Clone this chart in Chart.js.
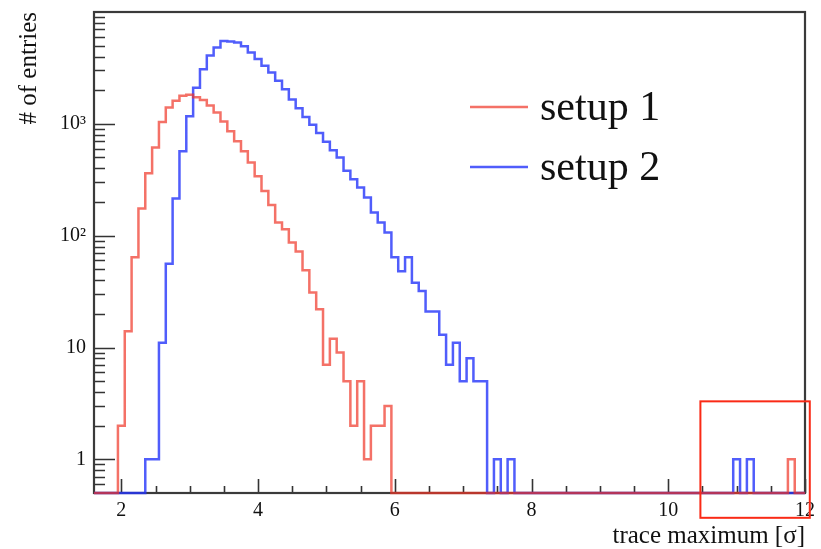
<!DOCTYPE html>
<html lang="en">
<head>
  <meta charset="UTF-8">
  <title>trace maximum</title>
  <script src="https://cdn.jsdelivr.net/npm/chart.js"></script>
  <style>
    * { box-sizing: border-box; margin: 0; padding: 0; }
    body { background: #fff; }
    .wrap { width: 821px; height: 549px; position: relative; }
  </style>
</head>
<body>
  <div class="wrap"><canvas id="histo"></canvas></div>

  <script>
    // binning: bin centres 1.6, 1.7, ... 12.0
    const binStart = 1.55;
    const binWidth = 0.1;

    // entries per bin
    const setup1Counts = [
      0, 0, 0, 0, 2, 14, 64, 175, 362, 614,
      1036, 1400, 1607, 1780, 1817, 1730, 1630, 1460, 1260, 1050,
      860, 700, 570, 450, 340, 251, 188, 131, 114, 87,
      72, 49, 31, 22, 7, 12, 9, 5, 2, 5,
      1, 2, 2, 3, 0, 0, 0, 0, 0, 0,
      0, 0, 0, 0, 0, 0, 0, 0, 0, 0,
      0, 0, 0, 0, 0, 0, 0, 0, 0, 0,
      0, 0, 0, 0, 0, 0, 0, 0, 0, 0,
      0, 0, 0, 0, 0, 0, 0, 0, 0, 0,
      0, 0, 0, 0, 0, 0, 0, 0, 0, 0,
      0, 0, 1, 0, 0
    ];
    const setup2Counts = [
      0, 0, 0, 0, 0, 0, 0, 0, 1, 1,
      11, 56, 215, 570, 1170, 2100, 3080, 4080, 4820, 5500,
      5450, 5350, 4950, 4350, 3800, 3300, 2880, 2430, 2040, 1650,
      1380, 1150, 980, 830, 690, 580, 500, 380, 320, 269,
      219, 161, 131, 107, 64, 48, 64, 38, 32, 21,
      21, 13, 7, 11, 5, 8, 5, 5, 0, 1,
      0, 1, 0, 0, 0, 0, 0, 0, 0, 0,
      0, 0, 0, 0, 0, 0, 0, 0, 0, 0,
      0, 0, 0, 0, 0, 0, 0, 0, 0, 0,
      0, 0, 0, 0, 1, 0, 1, 0, 0, 0,
      0, 0, 0, 0, 0
    ];

    const seriesLabels = ['setup 1', 'setup 2'];
    const seriesColors = ['rgba(240,52,38,0.7)', 'rgba(36,52,250,0.8)'];

    // axes
    const xRange = [1.6, 12];
    const yRange = [0.5, 10000];
    const xLabelValues = [2, 4, 6, 8, 10, 12];
    const xMinorStep = 0.5;
    const yLabelValues = [1, 10, 100, 1000];
    const yLabelText = ['1', '10', '10²', '10³'];
    const xTitle = 'trace maximum [σ]';
    const yTitle = '# of entries';

    // highlight box round the far tail (x from..to, y from..to)
    const highlightX = [10.47, 12.07];
    const highlightY = [0.3, 3.3];

    const serif = '"Liberation Serif", "DejaVu Serif", serif';

    // histogram -> step points on the low bin edges (empty bins sit on the axis minimum)
    function toSteps(counts) {
      const pts = counts.map((c, i) => ({ x: binStart + i * binWidth, y: c > 0 ? c : yRange[0] }));
      const last = counts.length - 1;
      pts.push({ x: binStart + (last + 1) * binWidth, y: pts[last].y });
      return pts;
    }

    // ROOT style frame with inward ticks
    const frameTicks = {
      id: 'frameTicks',
      beforeDatasetsDraw(chart) {
        const { ctx, chartArea: a, scales: { x, y } } = chart;
        ctx.save();
        ctx.strokeStyle = '#333';
        ctx.lineWidth = 1.6;
        ctx.beginPath();
        for (let e = -1; e <= 4; e++) {
          for (let m = 1; m <= 9; m++) {
            const v = m * Math.pow(10, e);
            if (v <= yRange[0] || v >= yRange[1]) continue;
            const py = Math.round(y.getPixelForValue(v)) + 0.5;
            ctx.moveTo(a.left, py);
            ctx.lineTo(a.left + (m === 1 ? 21 : 11), py);
          }
        }
        for (let v = xLabelValues[0]; v <= xRange[1] + 1e-6; v += xMinorStep) {
          const px = Math.round(x.getPixelForValue(v)) + 0.5;
          const major = Math.abs(v % 2) < 1e-6;
          ctx.moveTo(px, a.bottom);
          ctx.lineTo(px, a.bottom - (major ? 14 : 7));
        }
        ctx.stroke();

        ctx.strokeStyle = '#3a3a3a';
        ctx.lineWidth = 2.2;
        ctx.strokeRect(a.left, a.top, a.right - a.left, a.bottom - a.top);
        ctx.restore();
      }
    };

    // legend in the upper right of the frame, plus the red highlight box
    const histLegend = {
      id: 'histLegend',
      afterDraw(chart) {
        const { ctx, scales: { x, y } } = chart;
        ctx.save();
        ctx.font = '42px ' + serif;
        ctx.fillStyle = '#111';
        ctx.textBaseline = 'alphabetic';
        seriesLabels.forEach((label, i) => {
          const ly = 107 + i * 60;
          ctx.strokeStyle = seriesColors[i];
          ctx.lineWidth = 2.5;
          ctx.beginPath();
          ctx.moveTo(470, ly);
          ctx.lineTo(528, ly);
          ctx.stroke();
          ctx.fillText(label, 540, ly + 13);
        });

        const x0 = x.getPixelForValue(highlightX[0]);
        const x1 = x.getPixelForValue(highlightX[1]);
        const y0 = y.getPixelForValue(highlightY[1]);
        const y1 = y.getPixelForValue(highlightY[0]);
        ctx.strokeStyle = 'rgb(250,42,22)';
        ctx.lineWidth = 2;
        ctx.strokeRect(x0, y0, x1 - x0, y1 - y0);
        ctx.restore();
      }
    };

    const ctx = document.getElementById('histo').getContext('2d');
    new Chart(ctx, {
      type: 'line',
      data: {
        datasets: [setup1Counts, setup2Counts].map((counts, i) => ({
          label: seriesLabels[i],
          data: toSteps(counts),
          borderColor: seriesColors[i],
          borderWidth: 2.5,
          stepped: 'before',
          pointRadius: 0,
          fill: false,
          clip: { left: 0, top: 0, right: 0, bottom: 4 }
        }))
      },
      options: {
        responsive: true,
        maintainAspectRatio: false,
        animation: false,
        layout: { padding: { top: 12, right: 16, left: 0, bottom: 0 } },
        plugins: {
          legend: { display: false },
          tooltip: { enabled: false }
        },
        scales: {
          x: {
            type: 'linear',
            min: xRange[0],
            max: xRange[1],
            grid: { display: false, drawTicks: false },
            border: { display: false },
            afterBuildTicks: axis => { axis.ticks = xLabelValues.map(v => ({ value: v })); },
            afterFit: axis => { axis.height = 56; },
            ticks: {
              autoSkip: false,
              maxRotation: 0,
              padding: 6,
              color: '#111',
              font: { family: serif, size: 20 },
              callback: v => String(v)
            },
            title: {
              display: true,
              text: xTitle,
              align: 'end',
              color: '#111',
              padding: { top: 0, bottom: -2 },
              font: { family: serif, size: 25 }
            }
          },
          y: {
            type: 'logarithmic',
            min: yRange[0],
            max: yRange[1],
            grid: { display: false, drawTicks: false },
            border: { display: false },
            afterBuildTicks: axis => { axis.ticks = yLabelValues.map(v => ({ value: v })); },
            afterFit: axis => {
              axis.width = 94;
              axis.paddingTop = 0;
              axis.paddingBottom = 0;
            },
            ticks: {
              autoSkip: false,
              padding: 8,
              color: '#111',
              font: { family: serif, size: 20 },
              callback: v => yLabelText[yLabelValues.indexOf(v)]
            },
            title: {
              display: true,
              text: yTitle,
              align: 'end',
              color: '#111',
              padding: { top: 14, bottom: 0 },
              font: { family: serif, size: 25 }
            }
          }
        }
      },
      plugins: [frameTicks, histLegend]
    });
  </script>
</body>
</html>
